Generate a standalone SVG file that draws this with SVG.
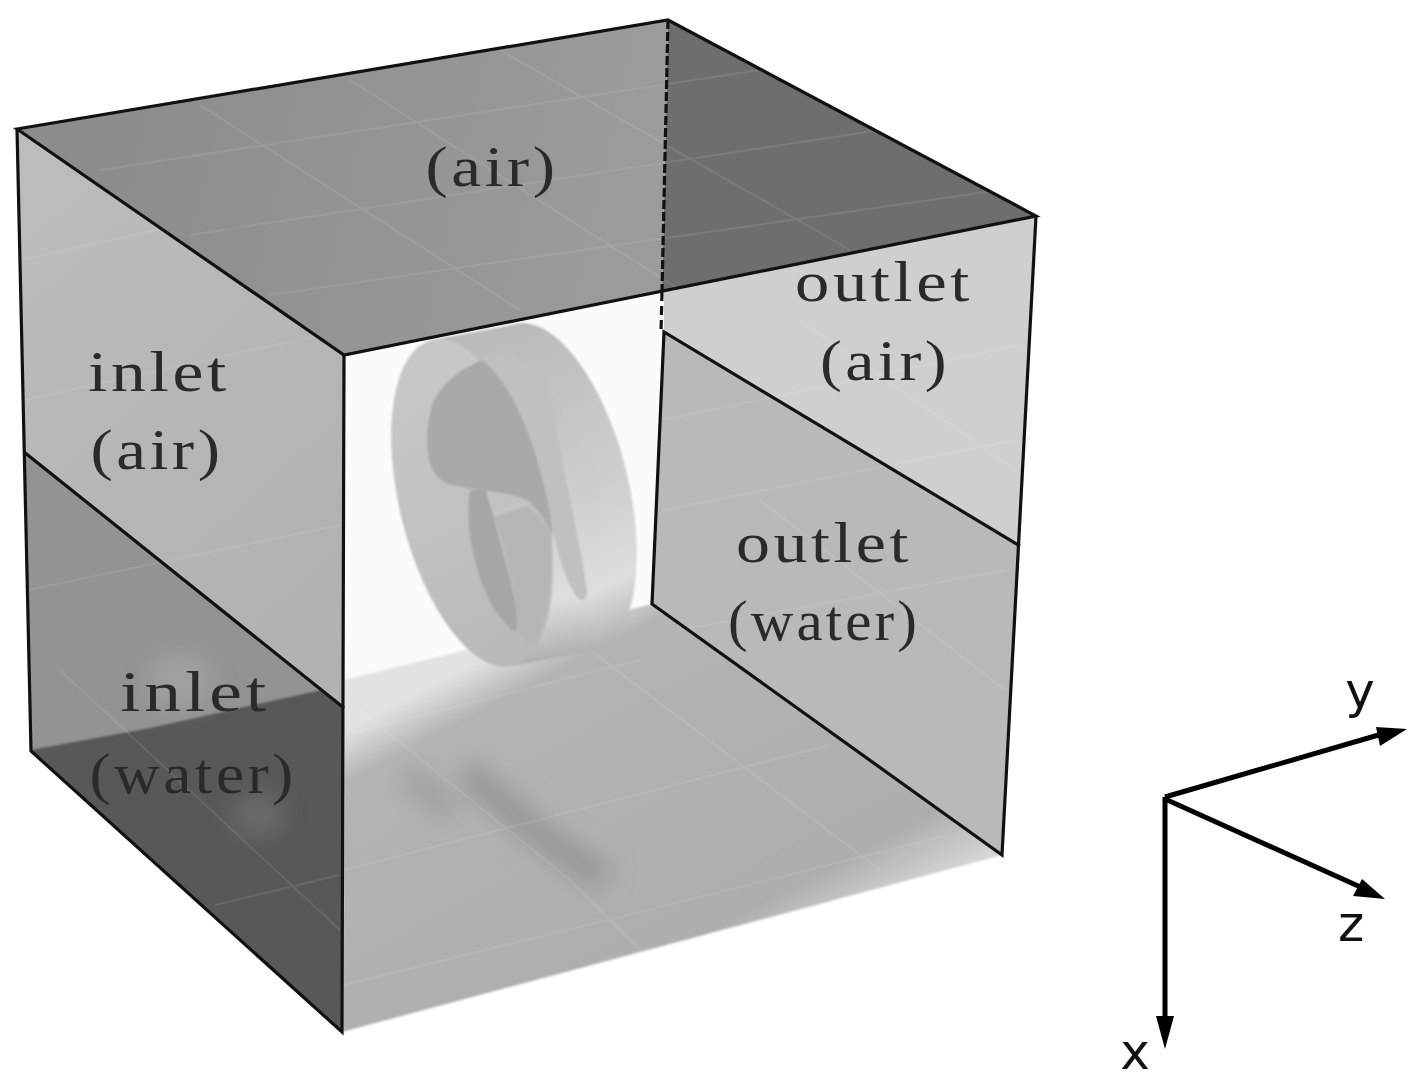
<svg xmlns="http://www.w3.org/2000/svg" width="1417" height="1084" viewBox="0 0 1417 1084">
<style>
.lbl{font-family:"Liberation Serif","Noto Sans CJK SC",serif;font-size:57px;fill:#2a2a2a;letter-spacing:3px;text-anchor:middle}
.ax{font-family:"DejaVu Sans",sans-serif;font-size:50px;fill:#111;text-anchor:middle}
.edge{fill:none;stroke:#111;stroke-width:3.2}
.grid{fill:none;stroke:#fff;stroke-opacity:.09;stroke-width:2}
.axis{stroke:#000;stroke-width:5;fill:none}
</style>
<defs>
<linearGradient id="floor" gradientUnits="userSpaceOnUse" x1="500" y1="650" x2="690" y2="1010">
<stop offset="0" stop-color="#e2e2e2"/><stop offset=".11" stop-color="#b4b4b4"/><stop offset=".85" stop-color="#aeaeae"/><stop offset="1" stop-color="#d4d4d4"/>
</linearGradient>
<linearGradient id="leftA" gradientUnits="userSpaceOnUse" x1="20" y1="200" x2="340" y2="560">
<stop offset="0" stop-color="#bcbcbc"/><stop offset="1" stop-color="#b2b2b2"/>
</linearGradient>
<linearGradient id="topF" gradientUnits="userSpaceOnUse" x1="100" y1="130" x2="650" y2="250">
<stop offset="0" stop-color="#8c8c8c"/><stop offset="1" stop-color="#9c9c9c"/>
</linearGradient>
<linearGradient id="rim" gradientUnits="userSpaceOnUse" x1="430" y1="340" x2="510" y2="666">
<stop offset="0" stop-color="#c8c8c8"/><stop offset=".5" stop-color="#c2c2c2"/><stop offset="1" stop-color="#b8b8b8"/>
</linearGradient>
<linearGradient id="outer" gradientUnits="userSpaceOnUse" x1="530" y1="325" x2="590" y2="655">
<stop offset="0" stop-color="#bababa"/><stop offset=".55" stop-color="#cfcfcf"/><stop offset=".82" stop-color="#dedede"/><stop offset="1" stop-color="#adadad"/>
</linearGradient>
<filter id="b1" x="-20%" y="-20%" width="140%" height="140%"><feGaussianBlur stdDeviation="1.2"/></filter>
<filter id="b8" x="-50%" y="-50%" width="200%" height="200%"><feGaussianBlur stdDeviation="12"/></filter>
<filter id="bt" x="-5%" y="-5%" width="110%" height="110%"><feGaussianBlur stdDeviation=".6"/></filter>
</defs>
<rect width="1417" height="1084" fill="#fff"/>

<g id="back-wall"><polygon points="344,355 662,292 652,604 344,680" fill="#fbfbfb"/></g>

<g id="floor">
<polygon points="344,680 652,604 760,640 1002,855 342,1032" fill="url(#floor)" filter="url(#b1)"/>
<path d="M405,775 Q430,790 450,815" stroke="#a0a0a0" stroke-width="26" fill="none" filter="url(#b8)"/>
<path d="M465,770 Q540,840 605,880" stroke="#969696" stroke-width="28" fill="none" filter="url(#b8)"/>
<path class="grid" d="M344,735 L640,660 M344,870 L830,745 M344,985 L950,835 M360,710 L570,880 L650,960 M590,650 L880,870"/>
</g>

<g id="impeller">
<g filter="url(#b1)">
<ellipse cx="556" cy="487" rx="72" ry="168" transform="rotate(-14 556 487)" fill="url(#outer)"/>
<polygon points="432,340 516,324 600,480 596,650 512,666 470,500" fill="url(#outer)"/>
<path d="M483,357 C495,353 510,355 520,360 C535,368 547,380 551,400 C555,425 560,450 566,480 C574,520 584,565 587,592 C586,602 581,602 577,597 C568,585 560,562 555,540 L500,420 Z" fill="#c0c0c0"/>
<ellipse cx="472" cy="503" rx="72" ry="168" transform="rotate(-14 472 503)" fill="url(#rim)"/>
<path d="M483,360 C460,368 440,385 432,405 C426,425 426,445 429,460 C432,473 440,482 452,485 L472,489 C500,492 522,495 533,505 C542,515 548,525 552,535 C551,510 545,488 539,467 C532,440 523,420 515,403 C507,387 495,372 483,360Z" fill="#a9a9a9"/>
<path d="M493,515 L503,512 L517,505 C530,505 540,515 552,535 C553,570 549,610 537,640 C530,648 520,640 516,625 C517,585 505,550 493,515Z" fill="#b5b5b5"/>
<path d="M470,490 C467,510 468,535 475,560 C482,590 495,615 512,630 C518,635 517,625 516,610 C512,580 500,545 493,515 C490,505 487,495 486,490 Z" fill="#a6a6a6"/>
<path d="M494,514 L527,503" stroke="#c4c4c4" stroke-width="6" fill="none"/>
</g>
</g>

<g id="right-wall">
<polygon points="664,290 1036,216 1020,546 664,332" fill="#cfcfcf"/>
<polygon points="664,332 1020,546 1002,855 652,604" fill="#b9b9b9"/>
<path class="grid" d="M800,320 L1030,480 M664,420 L1020,345 M664,510 L1015,440 M760,500 L1005,690 M680,630 L1005,570"/>
</g>

<g id="left-wall">
<polygon points="17,129 344,355 344,708 24,452" fill="url(#leftA)"/>
<polygon points="24,452 344,708 342,1032 31,751" fill="#939393"/>
<clipPath id="lw"><polygon points="24,452 344,708 342,1032 31,751"/></clipPath>
<g clip-path="url(#lw)">
<polygon points="20,752 150,728 344,685 360,1040 31,1040" fill="#595959" filter="url(#b1)"/>
<ellipse cx="180" cy="680" rx="34" ry="30" fill="#b0b0b0" opacity=".45" filter="url(#b8)"/>
<ellipse cx="258" cy="815" rx="26" ry="22" fill="#7a7a7a" opacity=".6" filter="url(#b8)"/>
</g>
<path class="grid" d="M20,260 L340,190 M24,400 L344,330 M28,590 L340,525 M60,670 L340,930 M215,905 L340,875"/>
</g>

<g id="top-face">
<polygon points="17,129 668,20 662,292 344,355" fill="url(#topF)"/>
<polygon points="668,20 1036,216 662,292" fill="#6e6e6e"/>
<path class="grid" d="M100,170 L760,70 M190,235 L880,130 M270,295 L1000,190 M200,105 L520,310 M350,80 L680,290 M500,50 L850,250"/>
</g>

<g id="connectors">
<polygon class="edge" points="17,129 668,20 1036,216 344,355"/>
<path class="edge" d="M17,129 L31,751 L342,1032 L344,355"/>
<path class="edge" d="M24,452 L344,708"/>
<path class="edge" d="M1036,216 L1002,855 L652,604 L664,332 L1020,546"/>
<path class="edge" d="M668,20 L662,292" stroke-dasharray="9 3"/>
<path class="edge" d="M662,292 L661,332" stroke-dasharray="9 5"/>
</g>

<g id="labels" filter="url(#bt)">
<text class="lbl" x="492" y="186" textLength="133" lengthAdjust="spacingAndGlyphs">(air)</text>
<text class="lbl" x="159" y="391" textLength="142" lengthAdjust="spacingAndGlyphs">inlet</text>
<text class="lbl" x="157" y="469" textLength="133" lengthAdjust="spacingAndGlyphs">(air)</text>
<text class="lbl" x="195" y="711" textLength="150" lengthAdjust="spacingAndGlyphs">inlet</text>
<text class="lbl" x="193" y="793" textLength="207" lengthAdjust="spacingAndGlyphs">(water)</text>
<text class="lbl" x="884" y="301" textLength="178" lengthAdjust="spacingAndGlyphs">outlet</text>
<text class="lbl" x="885" y="380" textLength="130" lengthAdjust="spacingAndGlyphs">(air)</text>
<text class="lbl" x="824" y="562" textLength="176" lengthAdjust="spacingAndGlyphs">outlet</text>
<text class="lbl" x="824" y="640" textLength="192" lengthAdjust="spacingAndGlyphs">(water)</text>
</g>

<g id="axes">
<path class="axis" d="M1165,797 L1382,734"/>
<polygon points="1407,729 1376,727 1380,746"/>
<path class="axis" d="M1165,799 L1367,890"/>
<polygon points="1385,899 1362,879 1353,896"/>
<path class="axis" d="M1165,797 L1165,1020"/>
<polygon points="1165,1049 1156,1016 1174,1016"/>
<text class="ax" x="1360" y="708">y</text>
<text class="ax" x="1351" y="941">z</text>
<text class="ax" x="1135" y="1069">x</text>
</g>
</svg>
